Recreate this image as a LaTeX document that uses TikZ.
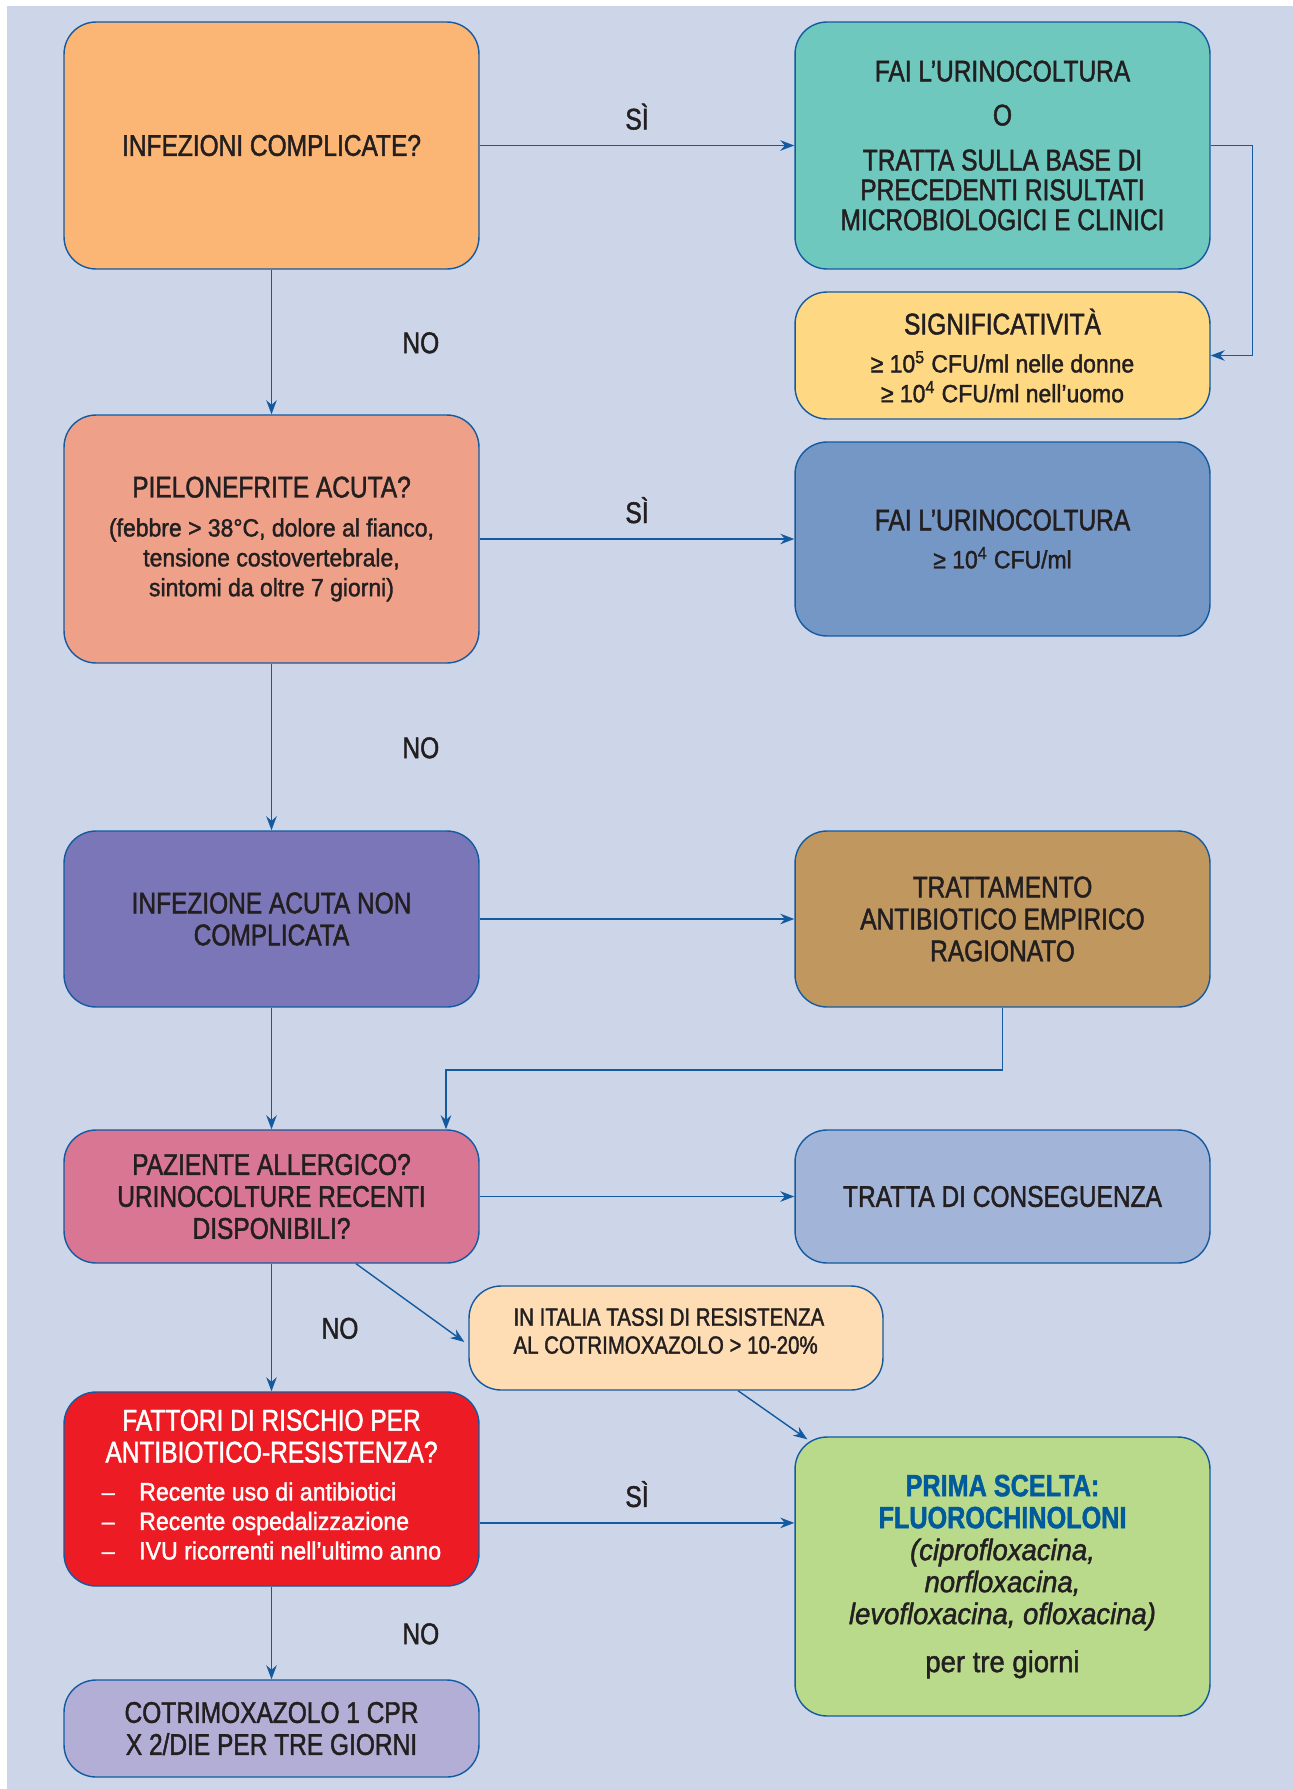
\documentclass[tikz,border=0pt]{standalone}
\usepackage{fontspec}
\setmainfont{Liberation Sans}[FakeStretch=0.82, FakeBold=1.5]
\newfontfamily\bodyfam{Liberation Sans}[FakeStretch=0.92, FakeBold=1.5, Ligatures=TeX]
\usepackage{xcolor}
\usepackage{tikz}
\usetikzlibrary{arrows.meta, calc}
\definecolor{bgblue}{RGB}{205,214,232}
\definecolor{lineblue}{RGB}{20,90,160}
\definecolor{txtdark}{RGB}{35,31,32}
\definecolor{titleblue}{RGB}{0,90,156}
\definecolor{fillorange}{RGB}{251,181,116}
\definecolor{fillteal}{RGB}{110,200,190}
\definecolor{fillyellow}{RGB}{255,216,132}
\definecolor{fillsalmon}{RGB}{239,160,136}
\definecolor{fillblue}{RGB}{117,151,198}
\definecolor{fillpurple}{RGB}{123,118,183}
\definecolor{fillbrown}{RGB}{192,151,95}
\definecolor{fillpink}{RGB}{217,118,147}
\definecolor{fillpale}{RGB}{162,180,216}
\definecolor{fillpeach}{RGB}{254,220,180}
\definecolor{fillred}{RGB}{237,28,36}
\definecolor{fillgreen}{RGB}{185,218,138}
\definecolor{filllavender}{RGB}{179,174,214}
\newcommand{\boxtitlefont}{\fontsize{17}{17}\selectfont}
\newcommand{\boxwidefont}{\fontsize{17}{18.2}\selectfont}
\newcommand{\boxbodyfont}{\bodyfam\fontsize{14.2}{16.8}\selectfont}
\tikzset{
  box/.style={rectangle, draw=lineblue, rounded corners=0.64cm,
    minimum width=8.3cm, text width=7.9cm, align=flush center, inner sep=0pt,
    line width=0.8pt, text=txtdark, font=\boxtitlefont},
  arrow/.style={-{Stealth[length=8pt,width=6pt]}, line width=0.8pt, color=lineblue},
  lbl/.style={font=\boxtitlefont, text=txtdark, anchor=base, inner sep=0pt}
}

\begin{document}
\begin{tikzpicture}[x=0.02cm, y=-0.02cm]
  \useasboundingbox (0,0) rectangle (1293,1789);
  \fill[bgblue] (7,6) rectangle (1293,1789);

  % left column
  \node[box, fill=fillorange, minimum height=4.94cm] (infez) at (271.5,145.5)
    {INFEZIONI COMPLICATE?};
  \node[box, fill=fillsalmon, minimum height=4.96cm] (pielo) at (271.5,539)
    {PIELONEFRITE ACUTA?\\[5.2pt]
     {\boxbodyfont (febbre > 38°C, dolore al fianco,}\\
     {\boxbodyfont tensione costovertebrale,}\\
     {\boxbodyfont sintomi da oltre 7 giorni)}};
  \node[box, fill=fillpurple, minimum height=3.52cm, font=\boxwidefont] (acuta) at (271.5,919)
    {INFEZIONE ACUTA NON\\COMPLICATA};
  \node[box, fill=fillpink, minimum height=2.66cm, font=\boxwidefont] (allerg) at (271.5,1196.5)
    {PAZIENTE ALLERGICO?\\URINOCOLTURE RECENTI\\DISPONIBILI?};
  \node[box, fill=fillred, minimum height=3.88cm, text=white] (rischio) at (271.5,1489)
    {FATTORI DI RISCHIO PER\\[1.2pt]ANTIBIOTICO-RESISTENZA?\\[4.6pt]
     {\boxbodyfont\fontsize{14.3}{16.8}\selectfont
     \begin{tabular}[t]{@{}l@{\hspace{14pt}}l@{}}
       – & Recente uso di antibiotici\\
       – & Recente ospedalizzazione\\
       – & IVU ricorrenti nell’ultimo anno
     \end{tabular}}};
  \node[box, fill=filllavender, minimum height=1.94cm, font=\boxwidefont] (cotrim) at (271.5,1728.5)
    {COTRIMOXAZOLO 1 CPR\\X 2/DIE PER TRE GIORNI};

  % right column
  \node[box, fill=fillteal, minimum height=4.94cm] (urino) at (1002.5,145.5)
    {FAI L’URINOCOLTURA\\[8pt]O\\[8.6pt]TRATTA SULLA BASE DI\\PRECEDENTI RISULTATI\\MICROBIOLOGICI E CLINICI};
  \node[box, fill=fillyellow, minimum height=2.54cm] (signif) at (1002.5,355.5)
    {SIGNIFICATIVITÀ\\[4.6pt]
     {\boxbodyfont ≥ 10\textsuperscript{5} CFU/ml nelle donne}\\
     {\boxbodyfont ≥ 10\textsuperscript{4} CFU/ml nell’uomo}};
  \node[box, fill=fillblue, minimum height=3.88cm] (urino2) at (1002.5,539)
    {FAI L’URINOCOLTURA\\[4.6pt]{\boxbodyfont ≥ 10\textsuperscript{4} CFU/ml}};
  \node[box, fill=fillbrown, minimum height=3.52cm, font=\boxwidefont] (empir) at (1002.5,919)
    {TRATTAMENTO\\ANTIBIOTICO EMPIRICO\\RAGIONATO};
  \node[box, fill=fillpale, minimum height=2.66cm] (conseg) at (1002.5,1196.5)
    {TRATTA DI CONSEGUENZA};
  \node[box, fill=fillpeach, minimum width=8.28cm, minimum height=2.08cm,
    text width=6.5cm, align=flush left, font=\fontsize{14.2}{15.9}\selectfont] (italia) at (676,1338)
    {IN ITALIA TASSI DI RESISTENZA\\AL COTRIMOXAZOLO > 10-20\%\\[-7.9pt]\mbox{}};
  \node[box, fill=fillgreen, minimum height=5.58cm, font=\boxwidefont] (prima) at (1002.5,1576.5)
    {{\fontsize{17.5}{18.2}\selectfont\bfseries\color{titleblue}PRIMA SCELTA:}\\
     {\fontsize{17.5}{18.2}\selectfont\bfseries\color{titleblue}FLUOROCHINOLONI}\\
     {\bodyfam\fontsize{17}{18.2}\selectfont\itshape (ciprofloxacina,}\\
     {\bodyfam\fontsize{17}{18.2}\selectfont\itshape norfloxacina,}\\
     {\bodyfam\fontsize{17}{18.2}\selectfont\itshape levofloxacina, ofloxacina)}\\[9.1pt]
     {\bodyfam\fontsize{17}{18.2}\selectfont per tre giorni}};

  % connectors
  \draw[arrow] (infez) -- (urino) node[lbl, midway, yshift=9.1pt] {SÌ};
  \draw[arrow] (urino.east) -- ++(42,0) |- (signif.east);
  \draw[arrow] (infez) -- (pielo) node[lbl, midway, xshift=85pt, yshift=-6.3pt] {NO};
  \draw[arrow] (pielo) -- (urino2) node[lbl, midway, yshift=9.1pt] {SÌ};
  \draw[arrow] (pielo) -- (acuta) node[lbl, midway, xshift=85pt, yshift=-6.3pt] {NO};
  \draw[arrow] (acuta) -- (empir);
  \draw[arrow] (acuta) -- (allerg);
  \coordinate (gomito) at (446,1070);
  \draw[arrow] (empir.south) |- (gomito) -- (gomito |- allerg.north);
  \draw[arrow] (allerg) -- (conseg);
  \draw[arrow] (allerg) -- (rischio) node[lbl, midway, xshift=39pt, yshift=-6.3pt] {NO};
  \draw[arrow] ([shift={(84.5,0)}]allerg.south) -- ([shift={(-4,4)}]italia.west);
  \draw[arrow] ([shift={(62,0)}]italia.south) -- ([shift={(13,3)}]prima.north west);
  \coordinate (siout) at ([yshift=-19.3pt]rischio.east);
  \draw[arrow] (siout) -- (siout -| prima.west) node[lbl, midway, yshift=9.1pt] {SÌ};
  \draw[arrow] (rischio) -- (cotrim) node[lbl, midway, xshift=85pt, yshift=-6.3pt] {NO};
\end{tikzpicture}
\end{document}
